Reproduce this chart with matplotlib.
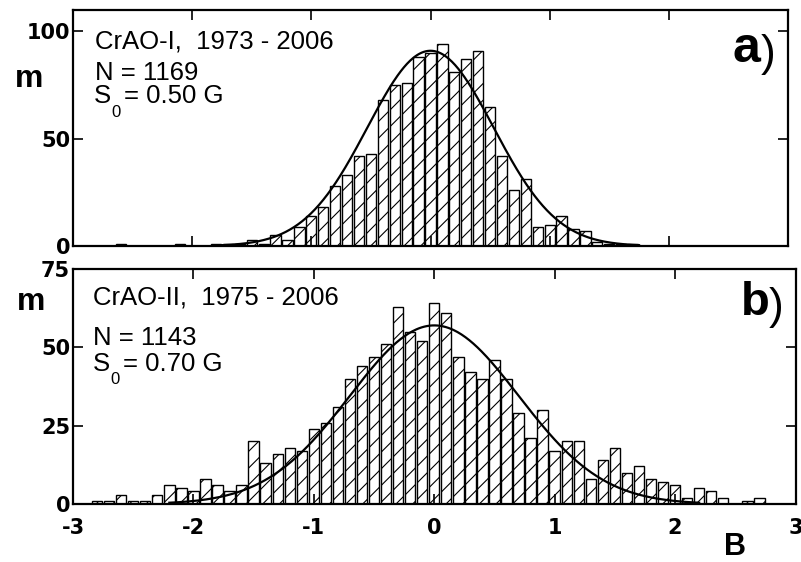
import numpy as np
import matplotlib
matplotlib.use('Agg')
import matplotlib.pyplot as plt

plt.rcParams['font.family'] = ['Liberation Sans', 'DejaVu Sans']
plt.rcParams['hatch.linewidth'] = 0.8
plt.rcParams['axes.unicode_minus'] = False

# ---- panel a data (CrAO-I) ----
B_a = [-2.6, -2.1, -1.8, -1.7, -1.6, -1.5, -1.4, -1.3, -1.2, -1.1, -1.0, -0.9, -0.8,
       -0.7, -0.6, -0.5, -0.4, -0.3, -0.2, -0.1, 0.0, 0.1, 0.2, 0.3, 0.4, 0.5, 0.6,
       0.7, 0.8, 0.9, 1.0, 1.1, 1.2, 1.3, 1.4, 1.5, 1.6, 1.7]
m_a = [1, 1, 1, 1, 1, 3, 1, 5, 3, 9, 14, 18, 28,
       33, 42, 43, 68, 75, 76, 88, 90, 94, 81, 87, 91, 65, 42,
       26, 31, 9, 10, 14, 8, 7, 2, 1, 1, 1]
fit_a_amp = 91.0
fit_a_sigma = 0.53

# ---- panel b data (CrAO-II) ----
B_b = [-2.8, -2.7, -2.6, -2.5, -2.4, -2.3, -2.2, -2.1, -2.0, -1.9, -1.8, -1.7, -1.6,
       -1.5, -1.4, -1.3, -1.2, -1.1, -1.0, -0.9, -0.8, -0.7, -0.6, -0.5, -0.4, -0.3,
       -0.2, -0.1, 0.0, 0.1, 0.2, 0.3, 0.4, 0.5, 0.6, 0.7, 0.8, 0.9, 1.0, 1.1, 1.2,
       1.3, 1.4, 1.5, 1.6, 1.7, 1.8, 1.9, 2.0, 2.1, 2.2, 2.3, 2.4, 2.5, 2.6, 2.7]
m_b = [1, 1, 3, 1, 1, 3, 6, 5, 4, 8, 6, 4, 6,
       20, 13, 16, 18, 17, 24, 26, 31, 40, 44, 47, 51, 63,
       55, 52, 64, 61, 47, 42, 40, 46, 40, 29, 21, 30, 17, 20, 20,
       8, 14, 18, 10, 12, 8, 7, 6, 2, 5, 4, 2, 0, 1, 2]
fit_b_amp = 57.0
fit_b_sigma = 0.70

xticks = [-3, -2, -1, 0, 1, 2, 3]
yticks_a = [0, 50, 100]
yticks_b = [0, 25, 50, 75]

W, H = 801, 562
fig = plt.figure(figsize=(W / 100, H / 100), dpi=100)


def box(l, t, r, b):
    return [l / W, 1 - b / H, (r - l) / W, (b - t) / H]


ax1 = fig.add_axes(box(73, 10, 788, 246))
ax2 = fig.add_axes(box(73, 269, 795.5, 504))


def style(ax, yt, ylim, xlim, xlabels):
    ax.set_xlim(*xlim)
    ax.set_ylim(*ylim)
    ax.set_xticks(xticks)
    ax.set_yticks(yt)
    for s in ax.spines.values():
        s.set_linewidth(1.6)
    ax.tick_params(direction='in', top=True, right=True, length=7, width=1.2,
                   labelsize=15, pad=2)
    ax.tick_params(axis='x', labelsize=15, pad=10)
    for lab in ax.get_yticklabels():
        lab.set_fontfamily('DejaVu Sans')
        lab.set_fontweight('bold')
    if xlabels:
        for lab in ax.get_xticklabels():
            lab.set_fontfamily('DejaVu Sans')
            lab.set_fontweight('bold')
    else:
        ax.set_xticklabels([])


bar_kw = dict(width=0.086, facecolor='white', edgecolor='black', linewidth=1.0,
              hatch='//', align='center')

ax1.bar(B_a, m_a, **bar_kw)
xa = np.linspace(-1.75, 1.75, 400)
ax1.plot(xa, fit_a_amp * np.exp(-xa ** 2 / (2 * fit_a_sigma ** 2)), color='black', lw=1.6)
style(ax1, yticks_a, (0, 110), (-3, 2.94), False)

ax2.bar(B_b, m_b, **bar_kw)
xb = np.linspace(-2.2, 2.2, 400)
ax2.plot(xb, fit_b_amp * np.exp(-xb ** 2 / (2 * fit_b_sigma ** 2)), color='black', lw=1.6)
style(ax2, yticks_b, (0, 75), (-3, 3), True)


def ftext(x, y, s, **kw):
    fig.text(x / W, 1 - y / H, s, va='baseline', ha='left', **kw)


tsize = 18.5
# panel a annotations
ftext(95, 48, 'CrAO-I,  1973 - 2006', fontsize=tsize)
ftext(95, 80, 'N = 1169', fontsize=tsize)
ftext(94, 103, 'S', fontsize=tsize)
ftext(111, 117, '0', fontsize=12)
ftext(124, 103, '= 0.50 G', fontsize=tsize)
ftext(15, 87, 'm', fontsize=23, fontweight='bold')
ftext(732, 62, 'a', fontsize=36, fontweight='bold')
ftext(761, 66, ')', fontsize=32)

# panel b annotations
ftext(93, 305, 'CrAO-II,  1975 - 2006', fontsize=tsize)
ftext(93, 345, 'N = 1143', fontsize=tsize)
ftext(93, 371, 'S', fontsize=tsize)
ftext(110, 384, '0', fontsize=12)
ftext(123, 371, '= 0.70 G', fontsize=tsize)
ftext(17, 310, 'm', fontsize=23, fontweight='bold')
ftext(741, 315, 'b', fontsize=34, fontweight='bold')
ftext(769, 319, ')', fontsize=32)

ftext(724, 555, 'B', fontsize=22, fontweight='bold')

fig.savefig('out.png', dpi=100)
